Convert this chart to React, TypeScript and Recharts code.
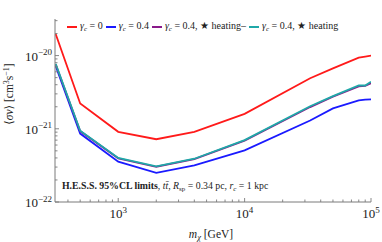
import { LineChart, Line, XAxis, YAxis, Legend } from 'recharts';

// dark matter mass, GeV
const masses = [320, 500, 1000, 2000, 4000, 10000, 33000, 50000, 80000, 90000, 100000];

// <sigma v> upper limits, cm^3 s^-1
const gammaZero = [1.97e-20, 2.22e-21, 9.1e-22, 7.2e-22, 9.1e-22, 1.6e-21, 4.9e-21, 6.7e-21, 9.4e-21, 9.7e-21, 1.0e-20];
const gammaFour = [7.2e-21, 8.6e-22, 3.55e-22, 2.5e-22, 3.16e-22, 5.07e-22, 1.3e-21, 1.9e-21, 2.45e-21, 2.5e-21, 2.52e-21];
const gammaFourHeatMinus = [7.6e-21, 9.3e-22, 3.95e-22, 3.03e-22, 3.85e-22, 6.9e-22, 1.98e-21, 2.75e-21, 3.8e-21, 3.85e-21, 4.2e-21];
const gammaFourHeat = [7.7e-21, 9.4e-22, 4.0e-22, 3.07e-22, 3.9e-22, 7.0e-22, 2.03e-21, 2.8e-21, 3.9e-21, 3.9e-21, 4.4e-21];

const xTicks = [
  400, 500, 600, 700, 800, 900, 1000,
  2000, 3000, 4000, 5000, 6000, 7000, 8000, 9000, 10000,
  20000, 30000, 40000, 50000, 60000, 70000, 80000, 90000, 100000,
];
const yTicks = [
  1e-22, 2e-22, 3e-22, 4e-22, 5e-22, 6e-22, 7e-22, 8e-22, 9e-22,
  1e-21, 2e-21, 3e-21, 4e-21, 5e-21, 6e-21, 7e-21, 8e-21, 9e-21,
  1e-20, 2e-20, 3e-20,
];

const seriesKeys = ['g0', 'g04', 'g04hm', 'g04h'];
const seriesColors = ['#ff1a1a', '#1a1aff', '#8a1a8a', '#1fa8a8'];
const seriesSuffix = ['0', '0.4', '0.4, ', '0.4, '];
const seriesHeating = ['', '', 'heating\u2013', 'heating'];

const data = masses.map((m, i) => ({
  m,
  g0: gammaZero[i],
  g04: gammaFour[i],
  g04hm: gammaFourHeatMinus[i],
  g04h: gammaFourHeat[i],
}));

const FONT = '"Liberation Serif", "DejaVu Serif", serif';
const AXIS = '#7a7a7a';
const FRAME = '#c8c8c8';

const isMajor = (v: number) => {
  const l = Math.log10(v);
  return Math.abs(l - Math.round(l)) < 1e-6;
};

const XTick = (props: any) => {
  const { x, y, payload } = props;
  const v = payload.value;
  const major = isMajor(v);
  const exp = Math.round(Math.log10(v));
  return (
    <g>
      <line x1={x} x2={x} y1={y} y2={y - (major ? 4 : 2.5)} stroke={AXIS} strokeWidth={0.9} />
      {major && (
        <text x={x} y={y + 16} textAnchor="middle" fontFamily={FONT} fontSize={13} fill="#222">
          10<tspan dy={-5.5} fontSize={9}>{exp}</tspan>
        </text>
      )}
    </g>
  );
};

const YTick = (props: any) => {
  const { x, y, payload } = props;
  const v = payload.value;
  const major = isMajor(v);
  const exp = Math.round(Math.log10(v));
  return (
    <g>
      <line x1={x} x2={x + (major ? 4 : 2.5)} y1={y} y2={y} stroke={AXIS} strokeWidth={0.9} />
      {major && (
        <text x={x - 3} y={y + 5} textAnchor="end" fontFamily={FONT} fontSize={13} fill="#222">
          10<tspan dy={-5.5} fontSize={9}>{'\u2212' + Math.abs(exp)}</tspan>
        </text>
      )}
    </g>
  );
};

const LegendBox = () => (
  <div
    style={{
      display: 'flex',
      alignItems: 'center',
      fontFamily: FONT,
      fontSize: 10,
      color: '#222',
      whiteSpace: 'nowrap',
    }}
  >
    {seriesKeys.map((k, i) => (
      <span key={k} style={{ display: 'flex', alignItems: 'center', marginRight: 3 }}>
        <span
          style={{
            display: 'inline-block',
            width: 10,
            height: 2,
            background: seriesColors[i],
            marginRight: 3,
          }}
        />
        <span>
          <i>γ</i>
          <sub style={{ fontSize: 7, fontStyle: 'italic', verticalAlign: '-2px' }}>c</sub>
          {' = ' + seriesSuffix[i]}
          {seriesHeating[i] && <span>★ {seriesHeating[i]}</span>}
        </span>
      </span>
    ))}
  </div>
);

export default function App() {
  return (
    <div style={{ position: 'absolute', left: 0, top: 0, width: 382, height: 242, background: '#fff' }}>
      <LineChart width={382} height={242} data={data} margin={{ top: 6, right: 11, bottom: 0, left: 0 }}>
        <XAxis
          dataKey="m"
          type="number"
          scale="log"
          domain={[316, 100000]}
          allowDataOverflow
          ticks={xTicks}
          interval={0}
          tick={<XTick />}
          tickLine={false}
          tickSize={0}
          tickMargin={0}
          height={40}
          axisLine={{ stroke: AXIS, strokeWidth: 1 }}
        />
        <XAxis
          xAxisId="top"
          orientation="top"
          dataKey="m"
          type="number"
          scale="log"
          domain={[316, 100000]}
          allowDataOverflow
          tick={false}
          tickLine={false}
          height={0}
          axisLine={{ stroke: FRAME, strokeWidth: 1 }}
        />
        <YAxis
          type="number"
          scale="log"
          domain={[1e-22, 3.16e-20]}
          allowDataOverflow
          ticks={yTicks}
          interval={0}
          tick={<YTick />}
          tickLine={false}
          tickSize={0}
          tickMargin={0}
          width={55}
          axisLine={{ stroke: AXIS, strokeWidth: 1 }}
        />
        <YAxis
          yAxisId="right"
          orientation="right"
          type="number"
          scale="log"
          domain={[1e-22, 3.16e-20]}
          allowDataOverflow
          tick={false}
          tickLine={false}
          width={0}
          axisLine={{ stroke: FRAME, strokeWidth: 1 }}
        />
        <Legend
          verticalAlign="top"
          content={<LegendBox />}
          wrapperStyle={{ position: 'absolute', top: 20, left: 67, width: 300 }}
        />
        {seriesKeys.map((k, i) => (
          <Line
            key={k}
            dataKey={k}
            type="linear"
            stroke={seriesColors[i]}
            strokeWidth={1.8}
            dot={false}
            isAnimationActive={false}
          />
        ))}
      </LineChart>
      <svg
        width={382}
        height={242}
        style={{ position: 'absolute', left: 0, top: 0, pointerEvents: 'none' }}
        fontFamily={FONT}
        fill="#222"
      >
        <text x={62} y={189} fontSize={9.8}>
          <tspan fontWeight="bold">H.E.S.S. 95%CL limits</tspan>
          <tspan>, </tspan>
          <tspan fontStyle="italic">t{'t\u0304'}</tspan>
          <tspan>, </tspan>
          <tspan fontStyle="italic">R</tspan>
          <tspan fontSize={7} dy={2}>sp</tspan>
          <tspan dy={-2}> = 0.34 pc, </tspan>
          <tspan fontStyle="italic">r</tspan>
          <tspan fontSize={7} fontStyle="italic" dy={2}>c</tspan>
          <tspan dy={-2}> = 1 kpc</tspan>
        </text>
        <text x={211} y={238} fontSize={11.5} textAnchor="middle">
          <tspan fontStyle="italic">m</tspan>
          <tspan fontSize={8.5} fontStyle="italic" dy={2}>χ</tspan>
          <tspan dy={-2}> [GeV]</tspan>
        </text>
        <text transform="translate(13,94) rotate(-90)" fontSize={11.5} textAnchor="middle">
          <tspan>⟨</tspan>
          <tspan fontStyle="italic">σv</tspan>
          <tspan>⟩ [cm</tspan>
          <tspan fontSize={8} dy={-4}>3</tspan>
          <tspan dy={4}>s</tspan>
          <tspan fontSize={8} dy={-4}>−1</tspan>
          <tspan dy={4}>]</tspan>
        </text>
      </svg>
    </div>
  );
}
